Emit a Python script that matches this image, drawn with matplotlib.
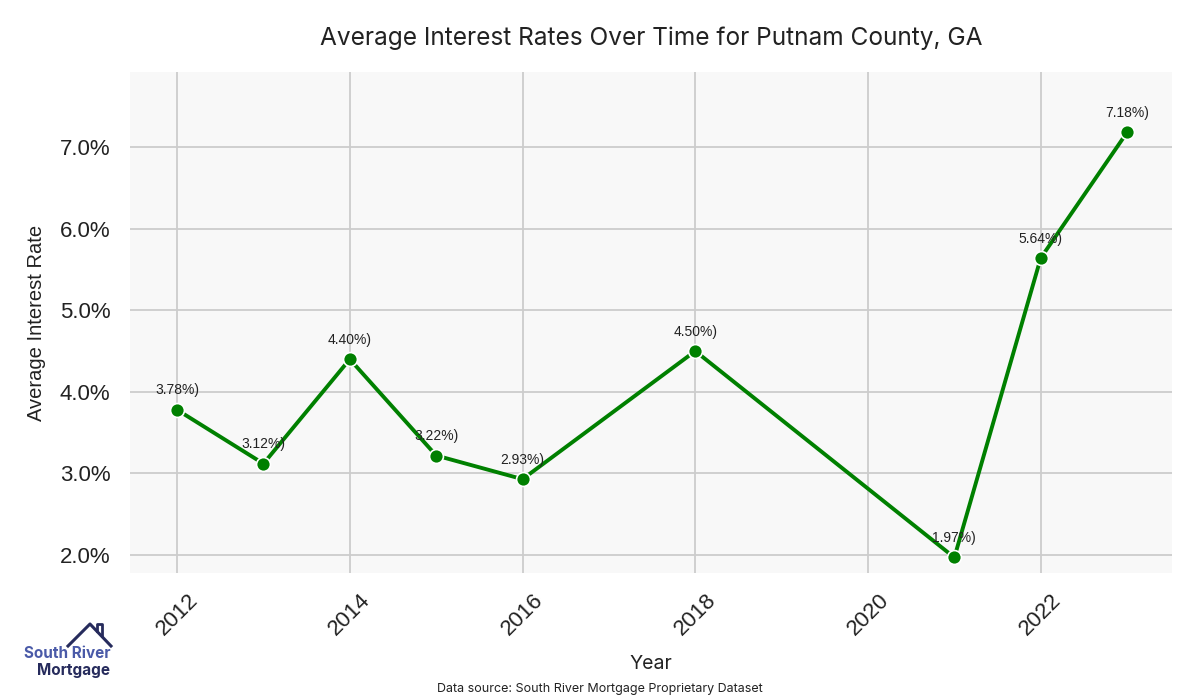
import matplotlib
matplotlib.use("Agg")
import matplotlib.pyplot as plt
from matplotlib.ticker import FuncFormatter
from matplotlib.lines import Line2D

years = [2012, 2013, 2014, 2015, 2016, 2018, 2021, 2022, 2023]
rates = [3.78, 3.12, 4.40, 3.22, 2.93, 4.50, 1.97, 5.64, 7.18]
x_ticks = [2012, 2014, 2016, 2018, 2020, 2022]
y_ticks = [2.0, 3.0, 4.0, 5.0, 6.0, 7.0]

fig = plt.figure(figsize=(12, 7), dpi=100)
ax = fig.add_axes([130/1200, 1-573/700, (1172-130)/1200, (573-72)/700])
ax.set_facecolor("#f8f8f8")
for s in ax.spines.values():
    s.set_visible(False)
ax.grid(True, color="#cccccc", linewidth=1.3)
ax.set_axisbelow(True)

ax.plot(years, rates, color="#008000", linewidth=2.8, marker="o", markersize=10,
        markerfacecolor="#008000", markeredgecolor="white", markeredgewidth=1.2, zorder=3)
for x, y in zip(years, rates):
    ax.annotate(f"{y:.2f}%)", (x, y), xytext=(0, 9), textcoords="offset points",
                ha="center", va="bottom", fontsize=10, color="#222222",
                family="Liberation Sans", zorder=4)

ax.set_xlim(2011.455, 2023.52)
ax.set_ylim(1.78, 7.92)
ax.set_xticks(x_ticks)
ax.set_yticks(y_ticks)
ax.yaxis.set_major_formatter(FuncFormatter(lambda v, p: f"{v:.1f}%"))
ax.tick_params(axis="both", length=0, labelsize=16, colors="#222222")
ax.tick_params(axis="y", pad=14)
ax.tick_params(axis="x", pad=12)
for lab in ax.get_xticklabels():
    lab.set_rotation(45)
    lab.set_family("Liberation Sans")
for lab in ax.get_yticklabels():
    lab.set_family("Liberation Sans")

ax.set_xlabel("Year", fontsize=14, family="Inter", color="#222222", labelpad=11)
ax.set_ylabel("Average Interest Rate", fontsize=14.5, family="Liberation Sans",
              color="#222222", labelpad=10)
fig.text(651/1200, 1-38/700, "Average Interest Rates Over Time for Putnam County, GA",
         ha="center", va="center", fontsize=17.6, family="Inter", color="#222222")
fig.text(600/1200, 1-689/700, "Data source: South River Mortgage Proprietary Dataset",
         ha="center", va="center", fontsize=9, family="Inter", color="#222222")

# logo
fig.text(67/1200, 1-654/700, "South River", ha="center", va="center", fontsize=11,
         family="Inter", fontweight="bold", color="#4a5aa8")
fig.text(74/1200, 1-670/700, "Mortgage", ha="center", va="center", fontsize=11,
         family="Inter", fontweight="bold", color="#262b5c")
fig.add_artist(Line2D([v/1200 for v in [68, 90, 111]], [1-v/700 for v in [646, 624, 646]],
                      color="#262b5c", linewidth=2.2, transform=fig.transFigure))
fig.add_artist(Line2D([v/1200 for v in [97, 97, 102, 102]], [1-v/700 for v in [631, 624, 624, 636]],
                      color="#262b5c", linewidth=2.0, transform=fig.transFigure))

fig.savefig("out.png", dpi=100, facecolor="white")
